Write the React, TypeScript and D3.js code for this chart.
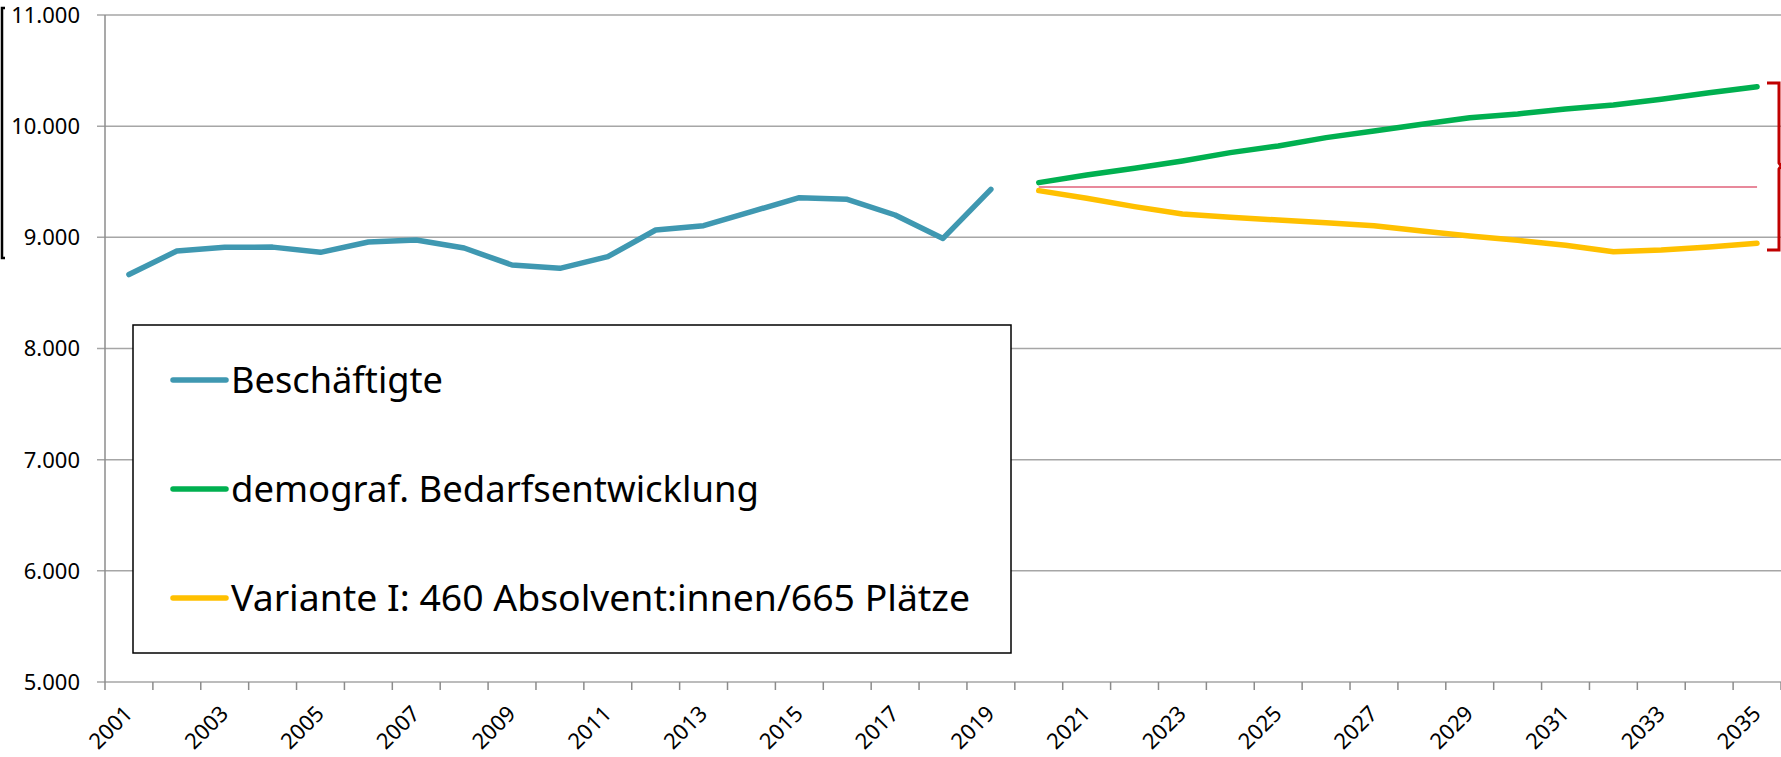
import * as d3 from "d3";
import { useEffect, useRef } from "react";

// categories on the x axis
const years = [
  "2001", "2002", "2003", "2004", "2005", "2006", "2007", "2008", "2009", "2010",
  "2011", "2012", "2013", "2014", "2015", "2016", "2017", "2018", "2019", "2020",
  "2021", "2022", "2023", "2024", "2025", "2026", "2027", "2028", "2029", "2030",
  "2031", "2032", "2033", "2034", "2035",
];
const labelYears = years.filter((_, i) => i % 2 === 0);

// Beschäftigte 2001-2019
const employedYears = years.slice(0, 19);
const employed = [8665, 8877, 8910, 8912, 8865, 8958, 8976, 8904, 8751, 8721, 8826, 9066, 9105, 9231, 9357, 9342, 9201, 8990, 9432];

// projections 2020-2035
const projYears = years.slice(19);
const demand = [9492, 9561, 9621, 9687, 9762, 9822, 9897, 9957, 10017, 10076, 10110, 10155, 10190, 10242, 10301, 10355];
const variant = [9420, 9351, 9276, 9210, 9180, 9156, 9132, 9105, 9057, 9012, 8973, 8928, 8871, 8886, 8913, 8946];
const baseline = [9453, 9453, 9453, 9453, 9453, 9453, 9453, 9453, 9453, 9453, 9453, 9453, 9453, 9453, 9453, 9453];

const yTicks = [5000, 6000, 7000, 8000, 9000, 10000, 11000];

const legendItems = [
  { label: "Beschäftigte", color: "#3f98b1", width: 212 },
  { label: "demograf. Bedarfsentwicklung", color: "#00b050", width: 528 },
  { label: "Variante I: 460 Absolvent:innen/665 Plätze", color: "#ffc000", width: 739 },
];

const FONT = "'Noto Sans', 'Open Sans', sans-serif";

function App() {
  const ref = useRef(null);

  useEffect(() => {
    const svg = d3.select(ref.current);
    svg.selectAll("*").remove();

    const width = 1781;
    const height = 757;
    svg.attr("width", width).attr("height", height);

    const left = 105;
    const right = 1781;
    const top = 15;
    const bottom = 682;

    const x = d3.scaleBand().domain(years).range([left, right]).padding(0);
    const y = d3.scaleLinear().domain([5000, 11000]).range([bottom, top]);
    const cx = (yr) => x(yr) + x.bandwidth() / 2;

    const de = d3.formatLocale({ decimal: ",", thousands: ".", grouping: [3], currency: ["", "€"] });
    const fmt = de.format(",.0f");

    // gridlines (with the small y ticks on the left)
    svg.append("g")
      .selectAll("line")
      .data(yTicks)
      .enter()
      .append("line")
      .attr("x1", left - 8)
      .attr("x2", right)
      .attr("y1", d => y(d))
      .attr("y2", d => y(d))
      .attr("stroke", "#a6a6a6")
      .attr("stroke-width", 1.5);

    // y axis line
    svg.append("line")
      .attr("x1", left).attr("x2", left)
      .attr("y1", top).attr("y2", bottom)
      .attr("stroke", "#8c8c8c")
      .attr("stroke-width", 1.5);

    // y labels
    svg.append("g")
      .selectAll("text")
      .data(yTicks)
      .enter()
      .append("text")
      .attr("x", 80)
      .attr("y", d => y(d))
      .attr("dy", "0.36em")
      .attr("text-anchor", "end")
      .style("font-family", FONT)
      .style("font-size", "22px")
      .attr("fill", "#000")
      .text(d => fmt(d));

    // x ticks at category boundaries
    const bounds = years.map(yr => x(yr)).concat([right]);
    svg.append("g")
      .selectAll("line")
      .data(bounds)
      .enter()
      .append("line")
      .attr("x1", d => d).attr("x2", d => d)
      .attr("y1", bottom).attr("y2", bottom + 8)
      .attr("stroke", "#8c8c8c")
      .attr("stroke-width", 1.5);

    // x labels, rotated
    svg.append("g")
      .selectAll("text")
      .data(labelYears)
      .enter()
      .append("text")
      .attr("transform", d => `translate(${cx(d) + 5},${bottom + 33}) rotate(-45)`)
      .attr("text-anchor", "end")
      .style("font-family", FONT)
      .style("font-size", "22px")
      .attr("fill", "#000")
      .text(d => d);

    // series
    const line = d3.line().x(d => cx(d[0])).y(d => y(d[1]));

    svg.append("path")
      .datum(projYears.map((yr, i) => [yr, baseline[i]]))
      .attr("d", line)
      .attr("fill", "none")
      .attr("stroke", "#e0627a")
      .attr("stroke-width", 1.5);

    const series = [
      { pts: employedYears.map((yr, i) => [yr, employed[i]]), color: legendItems[0].color },
      { pts: projYears.map((yr, i) => [yr, demand[i]]), color: legendItems[1].color },
      { pts: projYears.map((yr, i) => [yr, variant[i]]), color: legendItems[2].color },
    ];
    series.forEach(s => {
      svg.append("path")
        .datum(s.pts)
        .attr("d", line)
        .attr("fill", "none")
        .attr("stroke", s.color)
        .attr("stroke-width", 5.5)
        .attr("stroke-linejoin", "round")
        .attr("stroke-linecap", "round");
    });

    // red bracket on the right
    svg.append("path")
      .attr("d", "M1767,83 H1779 V163 L1781,166 L1779,169 V250 H1767")
      .attr("fill", "none")
      .attr("stroke", "#c00000")
      .attr("stroke-width", 3);

    // black bracket on the left
    svg.append("path")
      .attr("d", "M5,8 H2 V258 H5")
      .attr("fill", "none")
      .attr("stroke", "#000")
      .attr("stroke-width", 2.5);

    // legend
    const legend = svg.append("g");
    legend.append("rect")
      .attr("x", 133).attr("y", 325)
      .attr("width", 878).attr("height", 328)
      .attr("fill", "#fff")
      .attr("stroke", "#000")
      .attr("stroke-width", 1.5);

    const rowY = [380, 489, 598];
    legendItems.forEach((it, i) => {
      const row = legend.append("g").attr("transform", `translate(0,${rowY[i]})`);
      row.append("line")
        .attr("x1", 173).attr("x2", 226)
        .attr("y1", 0).attr("y2", 0)
        .attr("stroke", it.color)
        .attr("stroke-width", 5.5)
        .attr("stroke-linecap", "round");
      row.append("text")
        .attr("x", 231)
        .attr("y", 13)
        .attr("textLength", it.width)
        .attr("lengthAdjust", "spacingAndGlyphs")
        .style("font-family", FONT)
        .style("font-size", "36px")
        .attr("fill", "#000")
        .text(it.label);
    });
  }, []);

  return (
    <div style={{ position: "absolute", left: 0, top: 0, background: "#fff" }}>
      <svg ref={ref} style={{ display: "block" }} />
    </div>
  );
}

export default App;
